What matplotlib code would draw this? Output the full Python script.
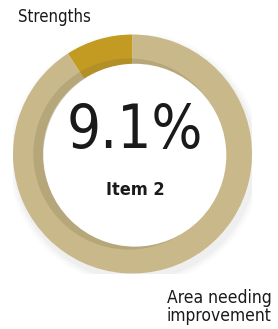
import matplotlib.pyplot as plt
from matplotlib.patches import Circle

labels = ['Strengths', 'Area needing\nimprovement']
values = [9.1, 90.9]
colors = ['#C49B22', '#C9B98A']
center_value = '9.1%'
center_label = 'Item 2'

fig = plt.figure(figsize=(2.78, 3.29), dpi=100)
ax = fig.add_axes([13 / 278, 1 - 273.5 / 329, 239 / 278, 239 / 329])

# soft shadow under the ring
for i, a in enumerate([0.05, 0.04, 0.03]):
    ax.add_patch(Circle((0.02, -0.04), 1.0 + 0.02 * (i + 1), color='#888888', alpha=a, lw=0))

ax.pie(values, colors=colors, startangle=90, counterclock=True, radius=1.0,
       wedgeprops=dict(width=0.25, linewidth=0))

# inner shading and white centre
ax.add_patch(Circle((-0.03, 0.0), 0.80, color='#6b6040', alpha=0.2, lw=0))
ax.add_patch(Circle((0.02, -0.01), 0.765, color='white', lw=0))

ax.text(0.02, 0.19, center_value, ha='center', va='center', fontsize=43,
        family='DejaVu Sans', stretch='condensed', weight='light', color='#1a1a1a')
ax.text(0.02, -0.30, center_label, ha='center', va='center', fontsize=13,
        family='DejaVu Sans', stretch='condensed', fontweight='bold', color='#1a1a1a')
ax.set_xlim(-1, 1)
ax.set_ylim(-1, 1)
ax.set_aspect('equal')
ax.axis('off')

fig.text(18 / 278, 1 - 17 / 329, labels[0], ha='left', va='center', fontsize=12,
         family='DejaVu Sans', stretch='condensed', color='#1a1a1a')
fig.text(219 / 278, 1 - 307 / 329, labels[1], ha='center', va='center', fontsize=12.5,
         family='DejaVu Sans', stretch='condensed', color='#1a1a1a', linespacing=0.95)

fig.savefig('out.png', dpi=100)
